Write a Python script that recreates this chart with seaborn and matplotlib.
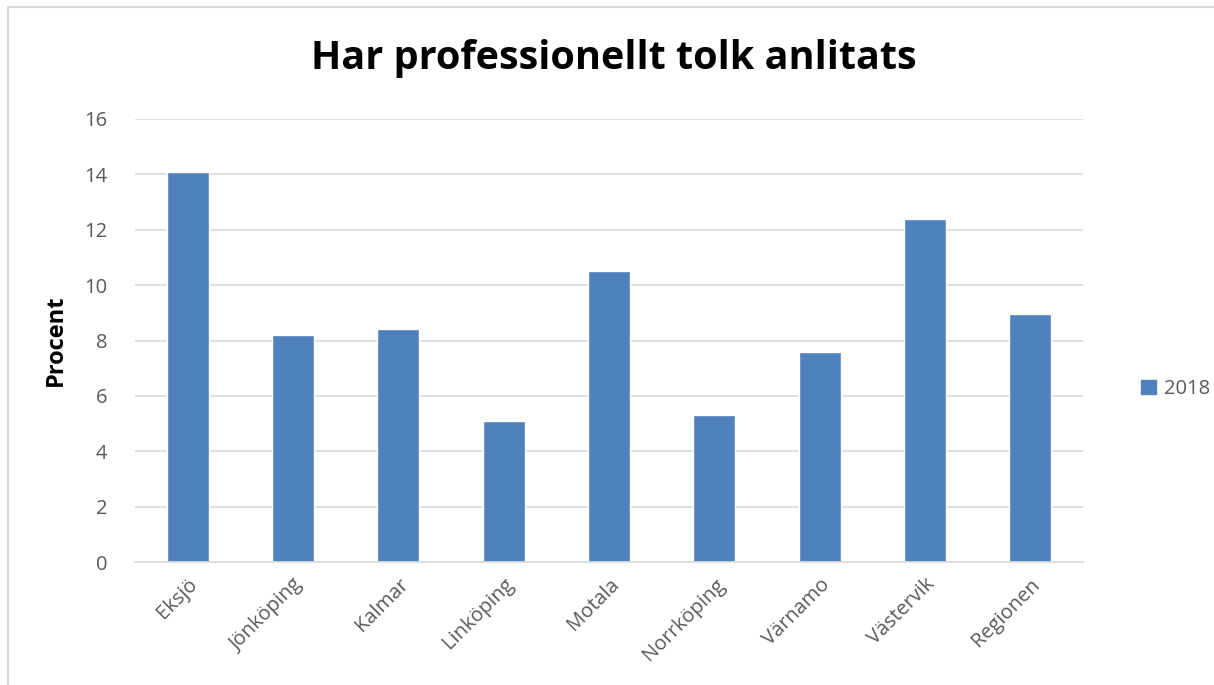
import matplotlib
matplotlib.use("Agg")
import matplotlib.pyplot as plt
from matplotlib.patches import Rectangle
import seaborn as sns
import pandas as pd

categories = ["Eksjö", "Jönköping", "Kalmar", "Linköping", "Motala",
              "Norrköping", "Värnamo", "Västervik", "Regionen"]
values_2018 = [14.1, 8.2, 8.4, 5.1, 10.5, 5.3, 7.6, 12.4, 8.95]
series_name = "2018"
yticks = [0, 2, 4, 6, 8, 10, 12, 14, 16]

sns.set_theme(style="white")
plt.rcParams["font.family"] = ["Open Sans", "DejaVu Sans"]

df = pd.DataFrame({"Ort": categories, "Procent": values_2018, "År": series_name})

fig = plt.figure(figsize=(12.14, 6.85), dpi=100)
ax = fig.add_axes([135 / 1214, 1 - 562 / 685, (1083 - 135) / 1214, (562 - 119) / 685])

bar_color = "#4F81BD"
sns.barplot(data=df, x="Ort", y="Procent", hue="År", palette=[bar_color],
            width=0.4, ax=ax, legend=False, saturation=1)

ax.set_ylim(0, 16)
ax.set_xlim(-0.5, len(categories) - 0.5)
ax.set_yticks(yticks)
ax.set_yticklabels([str(t) for t in yticks])
ax.yaxis.grid(True, color="#D9D9D9", linewidth=1.2)
ax.set_axisbelow(True)
for s in ["top", "right", "left"]:
    ax.spines[s].set_visible(False)
ax.spines["bottom"].set_color("#D9D9D9")
ax.spines["bottom"].set_linewidth(1.2)

ax.tick_params(axis="both", length=0, labelcolor="#595959", labelsize=14.5)
ax.tick_params(axis="y", pad=20)
plt.setp(ax.get_xticklabels(), rotation=45, ha="right", rotation_mode="anchor")
ax.tick_params(axis="x", pad=9)

ax.set_xlabel("")
ax.set_ylabel("Procent", fontsize=17, fontweight="bold", color="black", labelpad=12)

fig.text(614 / 1214, 1 - 58 / 685, "Har professionellt tolk anlitats",
         ha="center", va="center", fontsize=28.5, fontweight="bold", color="black")

# legend entry on the right
legend_handle = Rectangle((0, 0), 1, 1, color=bar_color)
fig.legend([legend_handle], [series_name], loc="center left",
           bbox_to_anchor=(1123 / 1214, 1 - 389 / 685), frameon=False,
           fontsize=14.5, handlelength=0.75, handleheight=0.75, handletextpad=0.4,
           labelcolor="#595959")

# light chart-area border
fig.patches.append(Rectangle((8 / 1214, -0.01), 1.2, 1 - 7 / 685 + 0.01,
                             transform=fig.transFigure, fill=False,
                             edgecolor="#D9D9D9", linewidth=1.5))

fig.savefig("out.png", dpi=100)
